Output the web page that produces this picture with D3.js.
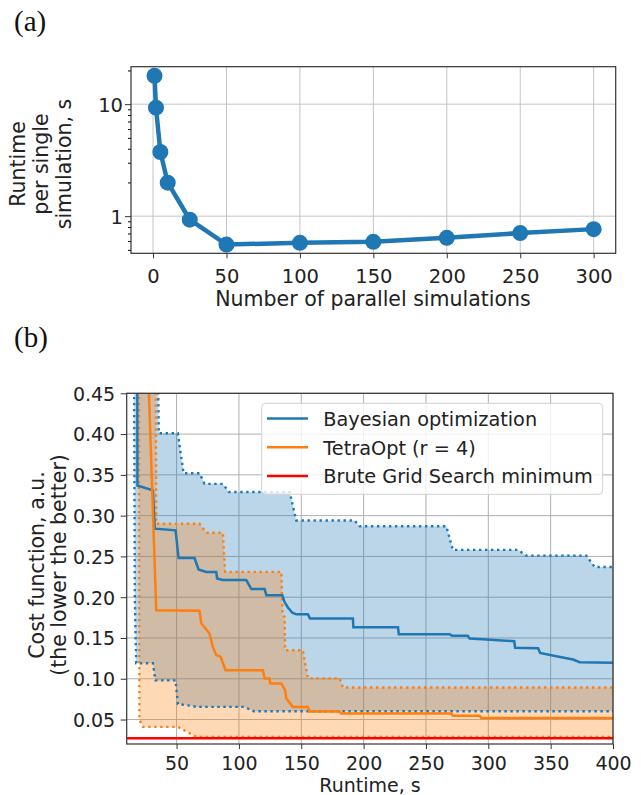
<!DOCTYPE html>
<html>
<head>
<meta charset="utf-8">
<script src="https://cdn.jsdelivr.net/npm/d3@7"></script>
<style>
body { margin: 0; background: #fff; }
text { font-family: "DejaVu Sans", sans-serif; fill: #222; }
</style>
</head>
<body>
<div id="fig"></div>
<script>
// ---- panel (a) data ----
var nParallel = [1, 2, 5, 10, 25, 50, 100, 150, 200, 250, 300];
var runtimePerSim = [17.9, 9.3, 3.74, 1.99, 0.93, 0.558, 0.578, 0.59, 0.641, 0.706, 0.766];
var xTicksA = [0, 50, 100, 150, 200, 250, 300];
var yTicksA = [1, 10];
var yMinorA = [0.5, 0.6, 0.7, 0.8, 0.9, 2, 3, 4, 5, 6, 7, 8, 9, 20];

// ---- panel (b) data, [runtime s, cost] ----
var bayesMean = [[18.4,0.6],[18.6,0.337],[31,0.331],[32.5,0.284],[49.2,0.282],[51.6,0.248],[64.4,0.248],
  [67.6,0.234],[73.8,0.231],[81.8,0.231],[82.5,0.223],[87,0.221],[105.9,0.221],[109.9,0.21],[120.6,0.21],
  [122,0.2025],[134.8,0.2025],[136.6,0.194],[139.3,0.1874],[142.8,0.181],[146,0.179],[155.3,0.179],
  [157,0.174],[191.4,0.174],[191.8,0.163],[227.6,0.163],[228.2,0.1547],[269,0.1547],[271,0.1526],
  [283.6,0.1526],[285,0.1494],[298.4,0.148],[320.8,0.146],[321.5,0.138],[340,0.1375],[341.5,0.1317],
  [354.6,0.1277],[367.9,0.1236],[373.3,0.1203],[400,0.1195]];
var bayesUpper = [[15.7,0.6],[34,0.6],[35.7,0.401],[51,0.401],[55.6,0.352],[68.4,0.352],[72.4,0.339],
  [87,0.339],[92,0.329],[140.7,0.329],[146,0.294],[192.8,0.294],[196.8,0.287],[266.3,0.287],
  [271.6,0.258],[323.8,0.258],[330.5,0.251],[378.6,0.251],[385.3,0.237],[400,0.237]];
var bayesLower = [[15.7,0.6],[16.5,0.2],[17.6,0.119],[31,0.119],[33,0.098],[49.2,0.098],[51,0.069],
  [63,0.0665],[66,0.0655],[104,0.0655],[112,0.0602],[400,0.0602]];
var tetraMean = [[24.5,0.6],[33.7,0.184],[68.4,0.1833],[69.8,0.168],[76.4,0.1555],[79.1,0.139],
  [81.8,0.129],[85.3,0.127],[89.3,0.1105],[119.2,0.1105],[120.6,0.1003],[124.6,0.1003],[125.1,0.0942],
  [134,0.0942],[137,0.086],[138,0.0758],[143.3,0.0655],[155.3,0.0655],[156.5,0.060],[180.7,0.060],
  [182,0.0574],[270.3,0.0574],[271.5,0.0545],[293,0.0545],[294.5,0.052],[400,0.052]];
var tetraUpper = [[19.7,0.6],[33,0.6],[33.7,0.29],[68.4,0.29],[73.8,0.279],[87.1,0.279],[89,0.231],
  [134,0.231],[135,0.178],[136.6,0.176],[137,0.135],[151.3,0.135],[155.3,0.1005],[180.7,0.1005],
  [183.4,0.0893],[400,0.0893]];
var tetraLower = [[19.7,0.6],[20.2,0.05],[23,0.041],[51,0.041],[66,0.0286],[400,0.0286]];
var gridMin = 0.0272;
var xTicksB = [50, 100, 150, 200, 250, 300, 350, 400];
var yTicksB = [0.05, 0.10, 0.15, 0.20, 0.25, 0.30, 0.35, 0.40, 0.45];
var legendNames = ["Bayesian optimization", "TetraOpt (r = 4)", "Brute Grid Search minimum"];
var legendColors = ["#1f77b4", "#ff7f0e", "#ff0000"];

var svg = d3.select("#fig").append("svg")
  .attr("width", 641).attr("height", 795);

// panel labels
svg.append("text").attr("x", 14).attr("y", 31).text("(a)")
  .style("font-family", "'Liberation Serif', serif").attr("font-size", "29px").style("fill", "#111");
svg.append("text").attr("x", 14).attr("y", 347).text("(b)")
  .style("font-family", "'Liberation Serif', serif").attr("font-size", "29px").style("fill", "#111");

// ================= panel (a) =================
var xA = d3.scaleLinear().domain([-15, 315]).range([131, 615.7]);
var yA = d3.scaleLog().domain([0.466, 21.6]).range([253.3, 66.7]);

var gA = svg.append("g");
// grid
gA.selectAll(".vg").data(xTicksA).enter().append("line")
  .attr("x1", d => xA(d)).attr("x2", d => xA(d)).attr("y1", 66.7).attr("y2", 253.3)
  .attr("stroke", "#c4c4c4").attr("stroke-width", 1);
gA.selectAll(".hg").data(yTicksA).enter().append("line")
  .attr("y1", d => yA(d)).attr("y2", d => yA(d)).attr("x1", 131).attr("x2", 615.7)
  .attr("stroke", "#c4c4c4").attr("stroke-width", 1);

var xAxisA = gA.append("g").attr("transform", "translate(0,253.3)")
  .call(d3.axisBottom(xA).tickValues(xTicksA).tickSize(5).tickSizeOuter(0));
xAxisA.selectAll("text").attr("dy", null).attr("y", 30).attr("font-size", "19.5px");

var yAxisA = gA.append("g").attr("transform", "translate(131,0)")
  .call(d3.axisLeft(yA).tickValues(yTicksA).tickFormat(d3.format("d")).tickSize(6).tickSizeOuter(0));
yAxisA.selectAll("text").attr("x", -8).attr("dy", "0.36em").attr("font-size", "19.5px");
gA.append("g").attr("transform", "translate(131,0)")
  .call(d3.axisLeft(yA).tickValues(yMinorA).tickFormat("").tickSize(3).tickSizeOuter(0))
  .select(".domain").remove();

gA.append("rect").attr("x", 131).attr("y", 66.7).attr("width", 615.7 - 131).attr("height", 253.3 - 66.7)
  .attr("fill", "none").attr("stroke", "#333").attr("stroke-width", 1.2);
[xAxisA, yAxisA].forEach(function(a){ a.select(".domain").remove(); a.selectAll("line").attr("stroke", "#333"); });

var lineA = d3.line().x((d, i) => xA(nParallel[i])).y(d => yA(d));
gA.append("path").datum(runtimePerSim).attr("d", lineA)
  .attr("fill", "none").attr("stroke", "#1f77b4").attr("stroke-width", 4.5);
gA.selectAll(".pt").data(runtimePerSim).enter().append("circle")
  .attr("cx", (d, i) => xA(nParallel[i])).attr("cy", d => yA(d)).attr("r", 8)
  .attr("fill", "#1f77b4");

// axis titles (a)
["Runtime", "per single", "simulation, s"].forEach(function(t, i){
  svg.append("text").attr("transform", "translate(" + (25 + i * 23) + ",164) rotate(-90)")
    .attr("text-anchor", "middle").attr("font-size", "20.5px").text(t);
});
svg.append("text").attr("x", 373).attr("y", 306).attr("text-anchor", "middle")
  .attr("font-size", "20.5px").text("Number of parallel simulations");

// ================= panel (b) =================
var L = 126.7, R = 613, T = 393.3, B = 744;
var xB = d3.scaleLinear().domain([10, 400]).range([L, R]);
var yB = d3.scaleLinear().domain([0.02, 0.45]).range([B, T]);
var gB = svg.append("g");

svg.append("defs").append("clipPath").attr("id", "clipB")
  .append("rect").attr("x", L).attr("y", T).attr("width", R - L).attr("height", B - T);

gB.selectAll(".vg").data(xTicksB).enter().append("line")
  .attr("x1", d => xB(d)).attr("x2", d => xB(d)).attr("y1", T).attr("y2", B)
  .attr("stroke", "#b0b0b0").attr("stroke-width", 1);
gB.selectAll(".hg").data(yTicksB).enter().append("line")
  .attr("y1", d => yB(d)).attr("y2", d => yB(d)).attr("x1", L).attr("x2", R)
  .attr("stroke", "#b0b0b0").attr("stroke-width", 1);

var plot = gB.append("g").attr("clip-path", "url(#clipB)");
var ln = d3.line().x(d => xB(d[0])).y(d => yB(d[1]));

function band(upper, lower, color) {
  plot.append("path").attr("d", ln(upper.concat(lower.slice().reverse())) + "Z")
    .attr("fill", color).attr("fill-opacity", 0.3).attr("stroke", "none");
}
function dotted(pts, color) {
  plot.append("path").attr("d", ln(pts)).attr("fill", "none")
    .attr("stroke", color).attr("stroke-width", 2.4).attr("stroke-dasharray", "2.4,3.6");
}
band(bayesUpper, bayesLower, "#1f77b4");
band(tetraUpper, tetraLower, "#ff7f0e");
dotted(bayesUpper, "#1f77b4");
dotted(bayesLower, "#1f77b4");
dotted(tetraUpper, "#ff7f0e");
dotted(tetraLower, "#ff7f0e");
plot.append("path").attr("d", ln(bayesMean)).attr("fill", "none")
  .attr("stroke", "#1f77b4").attr("stroke-width", 2.5);
plot.append("path").attr("d", ln(tetraMean)).attr("fill", "none")
  .attr("stroke", "#ff7f0e").attr("stroke-width", 2.5);
plot.append("line").attr("x1", L).attr("x2", R).attr("y1", yB(gridMin)).attr("y2", yB(gridMin))
  .attr("stroke", "#ff0000").attr("stroke-width", 2.5);

var xAxisB = gB.append("g").attr("transform", "translate(0," + B + ")")
  .call(d3.axisBottom(xB).tickValues(xTicksB).tickSize(5).tickSizeOuter(0));
xAxisB.selectAll("text").attr("dy", null).attr("y", 25.5).attr("font-size", "19px");
var yAxisB = gB.append("g").attr("transform", "translate(" + L + ",0)")
  .call(d3.axisLeft(yB).tickValues(yTicksB).tickFormat(d3.format(".2f")).tickSize(6).tickSizeOuter(0));
yAxisB.selectAll("text").attr("x", -11.5).attr("dy", "0.36em").attr("font-size", "19px");
[xAxisB, yAxisB].forEach(function(a){ a.select(".domain").remove(); a.selectAll("line").attr("stroke", "#333"); });
gB.append("rect").attr("x", L).attr("y", T).attr("width", R - L).attr("height", B - T)
  .attr("fill", "none").attr("stroke", "#333").attr("stroke-width", 1.2);

// legend
var leg = gB.append("g");
leg.append("rect").attr("x", 261.7).attr("y", 403.3).attr("width", 341).attr("height", 91)
  .attr("rx", 4).attr("fill", "#fff").attr("fill-opacity", 0.8).attr("stroke", "#d0d0d0");
legendNames.forEach(function(name, i){
  var cy = 418.5 + i * 28.8;
  leg.append("line").attr("x1", 267).attr("x2", 308).attr("y1", cy).attr("y2", cy)
    .attr("stroke", legendColors[i]).attr("stroke-width", 2.5);
  leg.append("text").attr("x", 323.3).attr("y", cy + 7.3).attr("font-size", "19.3px").text(name);
});

// axis titles (b)
[["Cost function, a.u.", 43.5], ["(the lower the better)", 65.5]].forEach(function(t){
  svg.append("text").attr("transform", "translate(" + t[1] + ",565) rotate(-90)")
    .attr("text-anchor", "middle").attr("font-size", "20.5px").text(t[0]);
});
svg.append("text").attr("x", 370).attr("y", 792).attr("text-anchor", "middle")
  .attr("font-size", "19px").text("Runtime, s");
</script>
</body>
</html>
